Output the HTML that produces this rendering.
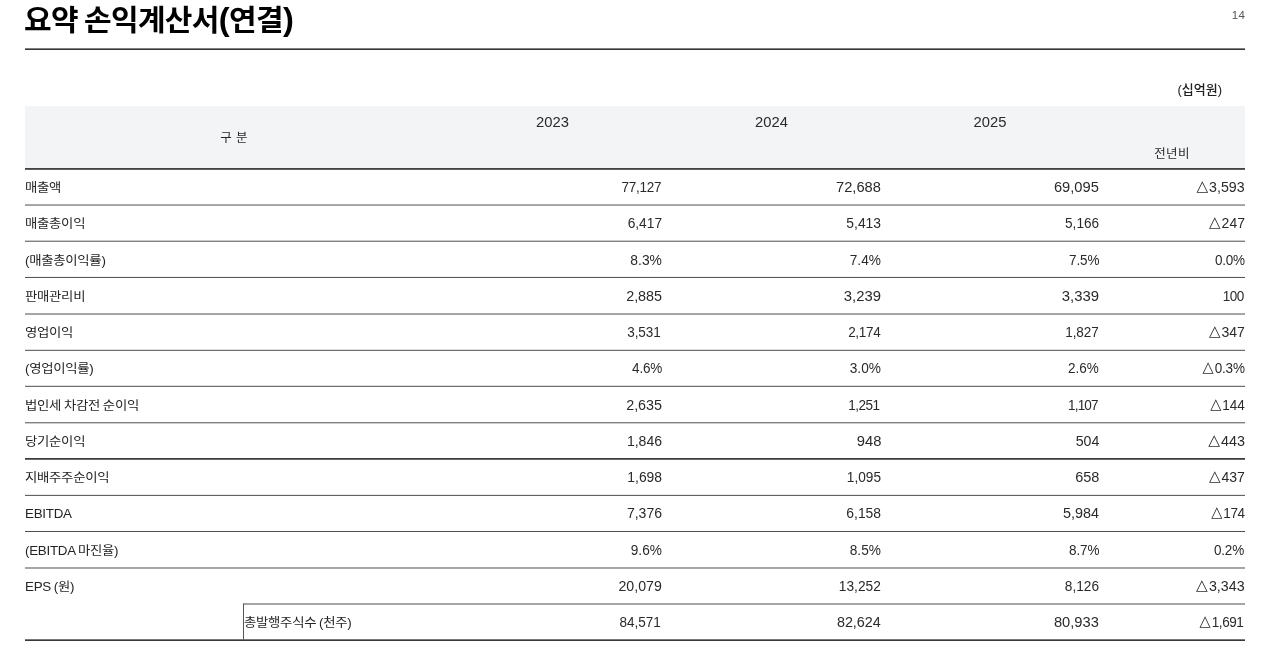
<!DOCTYPE html>
<html lang="ko">
<head>
<meta charset="utf-8">
<title>요약 손익계산서(연결)</title>
<style>
html,body{margin:0;padding:0;background:#fff;}
body{width:1280px;height:657px;overflow:hidden;font-family:"Liberation Sans","Noto Sans CJK KR",sans-serif;color:#2a2a2a;}
.page{position:relative;width:1280px;height:657px;overflow:hidden;background:#fff;}
.title{position:absolute;left:24.3px;top:-0.5px;margin:0;font-family:"Liberation Sans","Noto Sans CJK KR",sans-serif;font-weight:700;font-size:29px;line-height:40px;color:#000;white-space:nowrap;letter-spacing:-0.63px;word-spacing:-1.6px;transform:scaleX(1.035);transform-origin:0 50%;}
.title .p{font-size:31.5px;position:relative;top:-1px;}
.pageno{position:absolute;right:35px;top:7px;font-size:11.5px;line-height:16px;color:#555;letter-spacing:0.2px;}
.unit{position:absolute;right:58px;top:80px;font-size:13px;line-height:20px;color:#222;font-weight:500;font-family:"Liberation Sans","Noto Sans CJK KR",sans-serif;}
.thead{position:absolute;left:25px;top:106px;width:1220px;height:62px;background:#f3f4f5;}
.th{position:absolute;text-align:center;font-size:14px;line-height:20px;color:#2a2a2a;white-space:nowrap;}
.th.c0{left:0;width:418px;top:22px;font-size:12.5px;letter-spacing:0.3px;}
.th.c1,.th.c2,.th.c3{transform:scaleX(1.055);}
.th.c1{left:418px;width:219px;top:6px;}
.th.c2{left:637px;width:219px;top:6px;}
.th.c3{left:856px;width:218px;top:6px;}
.th.c4{left:1074px;width:146px;top:38px;font-size:12.5px;letter-spacing:0.4px;}
.rules{position:absolute;left:0;top:0;pointer-events:none;}
.row{position:absolute;left:25px;width:1220px;height:35px;}
.td{position:absolute;top:0;height:35px;line-height:35px;font-size:14px;white-space:nowrap;color:#2a2a2a;}
.lab{left:0;top:1px;font-size:12.5px;letter-spacing:-0.25px;word-spacing:-0.6px;font-weight:400;color:#242424;transform:scaleX(1.07);transform-origin:0 50%;}
.row.sub .lab{left:218.5px;}
.n1,.n2,.n3,.n4{text-align:right;transform-origin:100% 50%;}
.n1{right:583px;}
.n2{right:364px;}
.n3{right:146px;}
.n4{right:0;}
.neg::first-letter{font-family:"DejaVu Sans","Liberation Sans",sans-serif;font-size:15px;-webkit-text-stroke:0.2px #2a2a2a;letter-spacing:1px;vertical-align:1.2px;line-height:1;}
</style>
</head>
<body>
<div class="page">
<h1 class="title">요약 손익계산서<span class="p">(</span>연결<span class="p">)</span></h1>
<div class="pageno">14</div>
<div class="unit">(십억원)</div>
<div class="tbl" role="table" aria-label="요약 손익계산서(연결)">
<div class="thead" role="row">
  <div class="th c0" role="columnheader">구 분</div>
  <div class="th c1" role="columnheader">2023</div>
  <div class="th c2" role="columnheader">2024</div>
  <div class="th c3" role="columnheader">2025</div>
  <div class="th c4" role="columnheader">전년비</div>
</div>
<svg class="rules" width="1280" height="657" viewBox="0 0 1280 657" aria-hidden="true">
  <rect x="25" y="48.4" width="1220" height="1.55" fill="#2e2e2e"/>
  <rect x="25" y="168.1" width="1220" height="1.65" fill="#2e2e2e"/>
  <rect x="25" y="204.56" width="1220" height="0.95" fill="#444"/>
  <rect x="25" y="240.72" width="1220" height="0.95" fill="#444"/>
  <rect x="25" y="276.94" width="1220" height="0.95" fill="#444"/>
  <rect x="25" y="313.55" width="1220" height="0.95" fill="#444"/>
  <rect x="25" y="349.82" width="1220" height="0.95" fill="#444"/>
  <rect x="25" y="385.82" width="1220" height="0.95" fill="#444"/>
  <rect x="25" y="422.32" width="1220" height="0.95" fill="#444"/>
  <rect x="25" y="458.15" width="1220" height="1.5" fill="#1c1c1c"/>
  <rect x="25" y="494.88" width="1220" height="0.95" fill="#444"/>
  <rect x="25" y="530.98" width="1220" height="0.95" fill="#444"/>
  <rect x="25" y="567.52" width="1220" height="0.95" fill="#444"/>
  <rect x="243" y="603.52" width="1002" height="0.95" fill="#444"/>
  <rect x="25" y="639.38" width="1220" height="1.55" fill="#2a2a2a"/>
  <rect x="243" y="603.52" width="1" height="36.15" fill="#555"/>
</svg>
<div class="tbody" role="rowgroup">
<div class="row" role="row" style="top:170px">
  <div class="td lab" role="rowheader">매출액</div>
  <div class="td n1" role="cell" style="transform:scaleX(0.965);letter-spacing:-0.26px;right:583.25px">77,127</div>
  <div class="td n2" role="cell" style="transform:scaleX(1.046)">72,688</div>
  <div class="td n3" role="cell" style="transform:scaleX(1.049)">69,095</div>
  <div class="td n4 neg" role="cell" style="transform:scaleX(1.013);right:0.50px">△3,593</div>
</div>
<div class="row" role="row" style="top:206px">
  <div class="td lab" role="rowheader">매출총이익</div>
  <div class="td n1" role="cell" style="transform:scaleX(0.982)">6,417</div>
  <div class="td n2" role="cell" style="transform:scaleX(0.991)">5,413</div>
  <div class="td n3" role="cell" style="transform:scaleX(0.970)">5,166</div>
  <div class="td n4 neg" role="cell" style="transform:scaleX(0.997);right:0.50px">△247</div>
</div>
<div class="row" role="row" style="top:243px">
  <div class="td lab" role="rowheader">(매출총이익률)</div>
  <div class="td n1" role="cell" style="transform:scaleX(0.990)">8.3%</div>
  <div class="td n2" role="cell" style="transform:scaleX(0.977)">7.4%</div>
  <div class="td n3" role="cell" style="transform:scaleX(0.965);letter-spacing:-0.16px;right:146.15px">7.5%</div>
  <div class="td n4" role="cell" style="transform:scaleX(0.965);letter-spacing:-0.32px;right:0.81px">0.0%</div>
</div>
<div class="row" role="row" style="top:279px">
  <div class="td lab" role="rowheader">판매관리비</div>
  <div class="td n1" role="cell" style="transform:scaleX(1.024)">2,885</div>
  <div class="td n2" role="cell" style="transform:scaleX(1.061)">3,239</div>
  <div class="td n3" role="cell" style="transform:scaleX(1.064)">3,339</div>
  <div class="td n4" role="cell" style="transform:scaleX(0.965);letter-spacing:-0.53px;right:1.01px">100</div>
</div>
<div class="row" role="row" style="top:315px">
  <div class="td lab" role="rowheader">영업이익</div>
  <div class="td n1" role="cell" style="transform:scaleX(0.965);letter-spacing:-0.08px;right:584.08px">3,531</div>
  <div class="td n2" role="cell" style="transform:scaleX(0.965);letter-spacing:-0.33px;right:364.32px">2,174</div>
  <div class="td n3" role="cell" style="transform:scaleX(0.965);letter-spacing:-0.06px;right:146.06px">1,827</div>
  <div class="td n4 neg" role="cell" style="transform:scaleX(1.003);right:0.50px">△347</div>
</div>
<div class="row" role="row" style="top:351px">
  <div class="td lab" role="rowheader">(영업이익률)</div>
  <div class="td n1" role="cell" style="transform:scaleX(0.965);letter-spacing:-0.21px;right:583.20px">4.6%</div>
  <div class="td n2" role="cell" style="transform:scaleX(0.977)">3.0%</div>
  <div class="td n3" role="cell" style="transform:scaleX(0.965);letter-spacing:-0.02px;right:146.02px">2.6%</div>
  <div class="td n4 neg" role="cell" style="transform:scaleX(0.965);letter-spacing:-0.17px;right:0.66px">△0.3%</div>
</div>
<div class="row" role="row" style="top:388px">
  <div class="td lab" role="rowheader">법인세 차감전 순이익</div>
  <div class="td n1" role="cell" style="transform:scaleX(1.024)">2,635</div>
  <div class="td n2" role="cell" style="transform:scaleX(0.965);letter-spacing:-0.48px;right:365.46px">1,251</div>
  <div class="td n3" role="cell" style="transform:scaleX(0.965);letter-spacing:-0.87px;right:146.84px">1,107</div>
  <div class="td n4 neg" role="cell" style="transform:scaleX(0.965);letter-spacing:-0.06px;right:0.56px">△144</div>
</div>
<div class="row" role="row" style="top:424px">
  <div class="td lab" role="rowheader">당기순이익</div>
  <div class="td n1" role="cell" style="transform:scaleX(1.003)">1,846</div>
  <div class="td n2" role="cell" style="transform:scaleX(1.055)">948</div>
  <div class="td n3" role="cell" style="transform:scaleX(1.014)">504</div>
  <div class="td n4 neg" role="cell" style="transform:scaleX(1.023);right:0.50px">△443</div>
</div>
<div class="row" role="row" style="top:460px">
  <div class="td lab" role="rowheader">지배주주순이익</div>
  <div class="td n1" role="cell" style="transform:scaleX(0.991)">1,698</div>
  <div class="td n2" role="cell" style="transform:scaleX(0.976)">1,095</div>
  <div class="td n3" role="cell" style="transform:scaleX(1.034)">658</div>
  <div class="td n4 neg" role="cell" style="transform:scaleX(1.003);right:0.50px">△437</div>
</div>
<div class="row" role="row" style="top:496px">
  <div class="td lab" role="rowheader">EBITDA</div>
  <div class="td n1" role="cell" style="transform:scaleX(1.003)">7,376</div>
  <div class="td n2" role="cell" style="transform:scaleX(0.991)">6,158</div>
  <div class="td n3" role="cell" style="transform:scaleX(1.026)">5,984</div>
  <div class="td n4 neg" role="cell" style="transform:scaleX(0.965);letter-spacing:-0.44px;right:0.92px">△174</div>
</div>
<div class="row" role="row" style="top:533px">
  <div class="td lab" role="rowheader">(EBITDA 마진율)</div>
  <div class="td n1" role="cell" style="transform:scaleX(0.977)">9.6%</div>
  <div class="td n2" role="cell" style="transform:scaleX(0.977)">8.5%</div>
  <div class="td n3" role="cell" style="transform:scaleX(0.965);letter-spacing:-0.16px;right:146.15px">8.7%</div>
  <div class="td n4" role="cell" style="transform:scaleX(0.965);letter-spacing:-0.25px;right:0.74px">0.2%</div>
</div>
<div class="row" role="row" style="top:569px">
  <div class="td lab" role="rowheader">EPS (원)</div>
  <div class="td n1" role="cell" style="transform:scaleX(1.012)">20,079</div>
  <div class="td n2" role="cell" style="transform:scaleX(0.980)">13,252</div>
  <div class="td n3" role="cell" style="transform:scaleX(0.976)">8,126</div>
  <div class="td n4 neg" role="cell" style="transform:scaleX(1.019);right:0.50px">△3,343</div>
</div>
<div class="row sub" role="row" style="top:605px">
  <div class="td lab" role="rowheader">총발행주식수 (천주)</div>
  <div class="td n1" role="cell" style="transform:scaleX(0.965);letter-spacing:-0.01px;right:584.01px">84,571</div>
  <div class="td n2" role="cell" style="transform:scaleX(1.026)">82,624</div>
  <div class="td n3" role="cell" style="transform:scaleX(1.049)">80,933</div>
  <div class="td n4 neg" role="cell" style="transform:scaleX(0.965);letter-spacing:-0.43px;right:1.91px">△1,691</div>
</div>
</div>
</div>
</div>
</body>
</html>
